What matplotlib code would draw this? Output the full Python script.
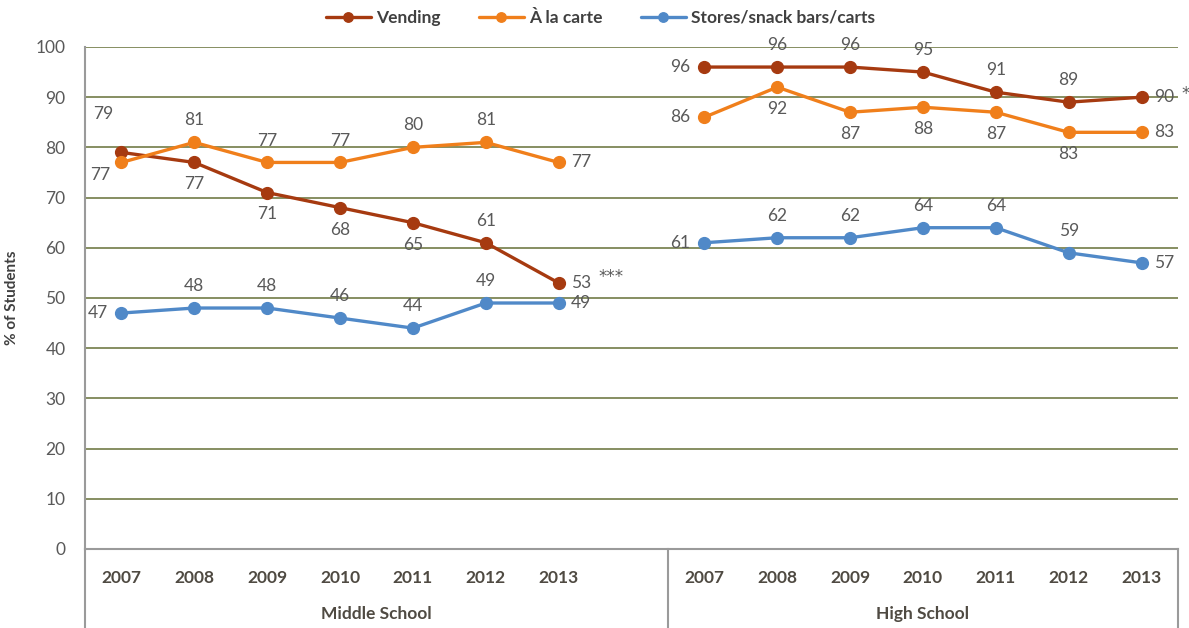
import matplotlib.pyplot as plt
from matplotlib.transforms import blended_transform_factory

plt.rcParams['font.family'] = ['Lato', 'DejaVu Sans']

# data
years = ["2007", "2008", "2009", "2010", "2011", "2012", "2013"]
groups = ["Middle School", "High School"]

ms_vending = [79, 77, 71, 68, 65, 61, 53]
ms_carte = [77, 81, 77, 77, 80, 81, 77]
ms_stores = [47, 48, 48, 46, 44, 49, 49]

hs_vending = [96, 96, 96, 95, 91, 89, 90]
hs_carte = [86, 92, 87, 88, 87, 83, 83]
hs_stores = [61, 62, 62, 64, 64, 59, 57]

# where each data label sits relative to its point
ms_vending_pos = ["tl", "b", "b", "b", "b", "t", "r"]
ms_carte_pos = ["bl", "t", "t", "t", "t", "t", "r"]
ms_stores_pos = ["l", "t", "t", "t", "t", "t", "r"]
hs_vending_pos = ["l", "t", "t", "t", "t", "t", "r"]
hs_carte_pos = ["l", "b", "b", "b", "b", "b", "r"]
hs_stores_pos = ["l", "t", "t", "t", "t", "t", "r"]

c_vend = "#a63a10"
c_carte = "#f07f1b"
c_store = "#5089c8"
grid_c = "#7d8655"
axis_c = "#9a9a9a"
lab_c = "#595959"
cat_c = "#4f4a42"

ms_x = list(range(0, 7))
hs_x = list(range(8, 15))

fig = plt.figure(figsize=(11.89, 6.28), dpi=100)
ax = fig.add_axes([0.0715, 0.1258, 0.9192, 0.7994])

offsets = {
    "t": (0, 10, "center", "bottom"),
    "b": (0, -10, "center", "top"),
    "l": (-10, 0, "right", "center"),
    "r": (9, 0, "left", "center"),
    "tl": (-6, 22, "right", "bottom"),
    "bl": (-8, -3, "right", "top"),
}


def draw(xs, vals, pos, color, label=None):
    ax.plot(xs, vals, color=color, lw=2.4, marker="o", ms=8.5, label=label,
            solid_capstyle="round", zorder=3)
    for x, v, p in zip(xs, vals, pos):
        dx, dy, ha, va = offsets[p]
        ax.annotate(str(v), (x, v), xytext=(dx, dy), textcoords="offset points",
                    ha=ha, va=va, fontsize=12.5, color=lab_c, zorder=4)


draw(ms_x, ms_vending, ms_vending_pos, c_vend, "Vending")
draw(ms_x, ms_carte, ms_carte_pos, c_carte, "\u00c0 la carte")
draw(ms_x, ms_stores, ms_stores_pos, c_store, "Stores/snack bars/carts")
draw(hs_x, hs_vending, hs_vending_pos, c_vend)
draw(hs_x, hs_carte, hs_carte_pos, c_carte)
draw(hs_x, hs_stores, hs_stores_pos, c_store)

# significance markers
ax.annotate("***", (ms_x[-1], ms_vending[-1]), xytext=(29, 4), textcoords="offset points",
            ha="left", va="center", fontsize=12, color=lab_c, family="DejaVu Sans")
ax.annotate("*", (hs_x[-1], hs_vending[-1]), xytext=(29, 2), textcoords="offset points",
            ha="left", va="center", fontsize=12, color=lab_c, family="DejaVu Sans")

ax.set_xlim(-0.5, 14.5)
ax.set_ylim(0, 100)
ax.set_yticks(range(0, 101, 10))
for y in range(10, 101, 10):
    ax.axhline(y, color=grid_c, lw=1.3, zorder=1)
ax.tick_params(axis="y", length=0, labelsize=12.5, labelcolor=lab_c, pad=14)
ax.set_xticks([])
for s in ["top", "right"]:
    ax.spines[s].set_visible(False)
ax.spines["left"].set_color(axis_c)
ax.spines["bottom"].set_color(axis_c)
ax.spines["left"].set_linewidth(1.5)
ax.spines["bottom"].set_linewidth(1.5)

# two-level category axis
trans = blended_transform_factory(ax.transData, ax.transAxes)
for x, yr in zip(ms_x + hs_x, years + years):
    ax.text(x, -0.057, yr, transform=trans, ha="center", va="center",
            fontsize=12.5, fontweight="bold", color=cat_c)
ax.text(3.5, -0.13, groups[0], transform=trans, ha="center", va="center",
        fontsize=12.5, fontweight="bold", color=cat_c)
ax.text(11, -0.13, groups[1], transform=trans, ha="center", va="center",
        fontsize=12.5, fontweight="bold", color=cat_c)
for xv in [-0.5, 7.5, 14.5]:
    ax.plot([xv, xv], [0, -0.16], transform=trans, color=axis_c, lw=1.5, clip_on=False)

ax.set_ylabel("% of Students", fontsize=11, fontweight="bold", color="#404040", labelpad=12)

leg = fig.legend(loc="center", bbox_to_anchor=(0.505, 0.972), ncol=3, frameon=False,
                 fontsize=12.5, handlelength=2.6, columnspacing=2.2, handletextpad=0.3,
                 markerscale=0.8)
for t in leg.get_texts():
    t.set_fontweight("bold")
    t.set_color("#404040")

fig.savefig("out.png", dpi=100)
